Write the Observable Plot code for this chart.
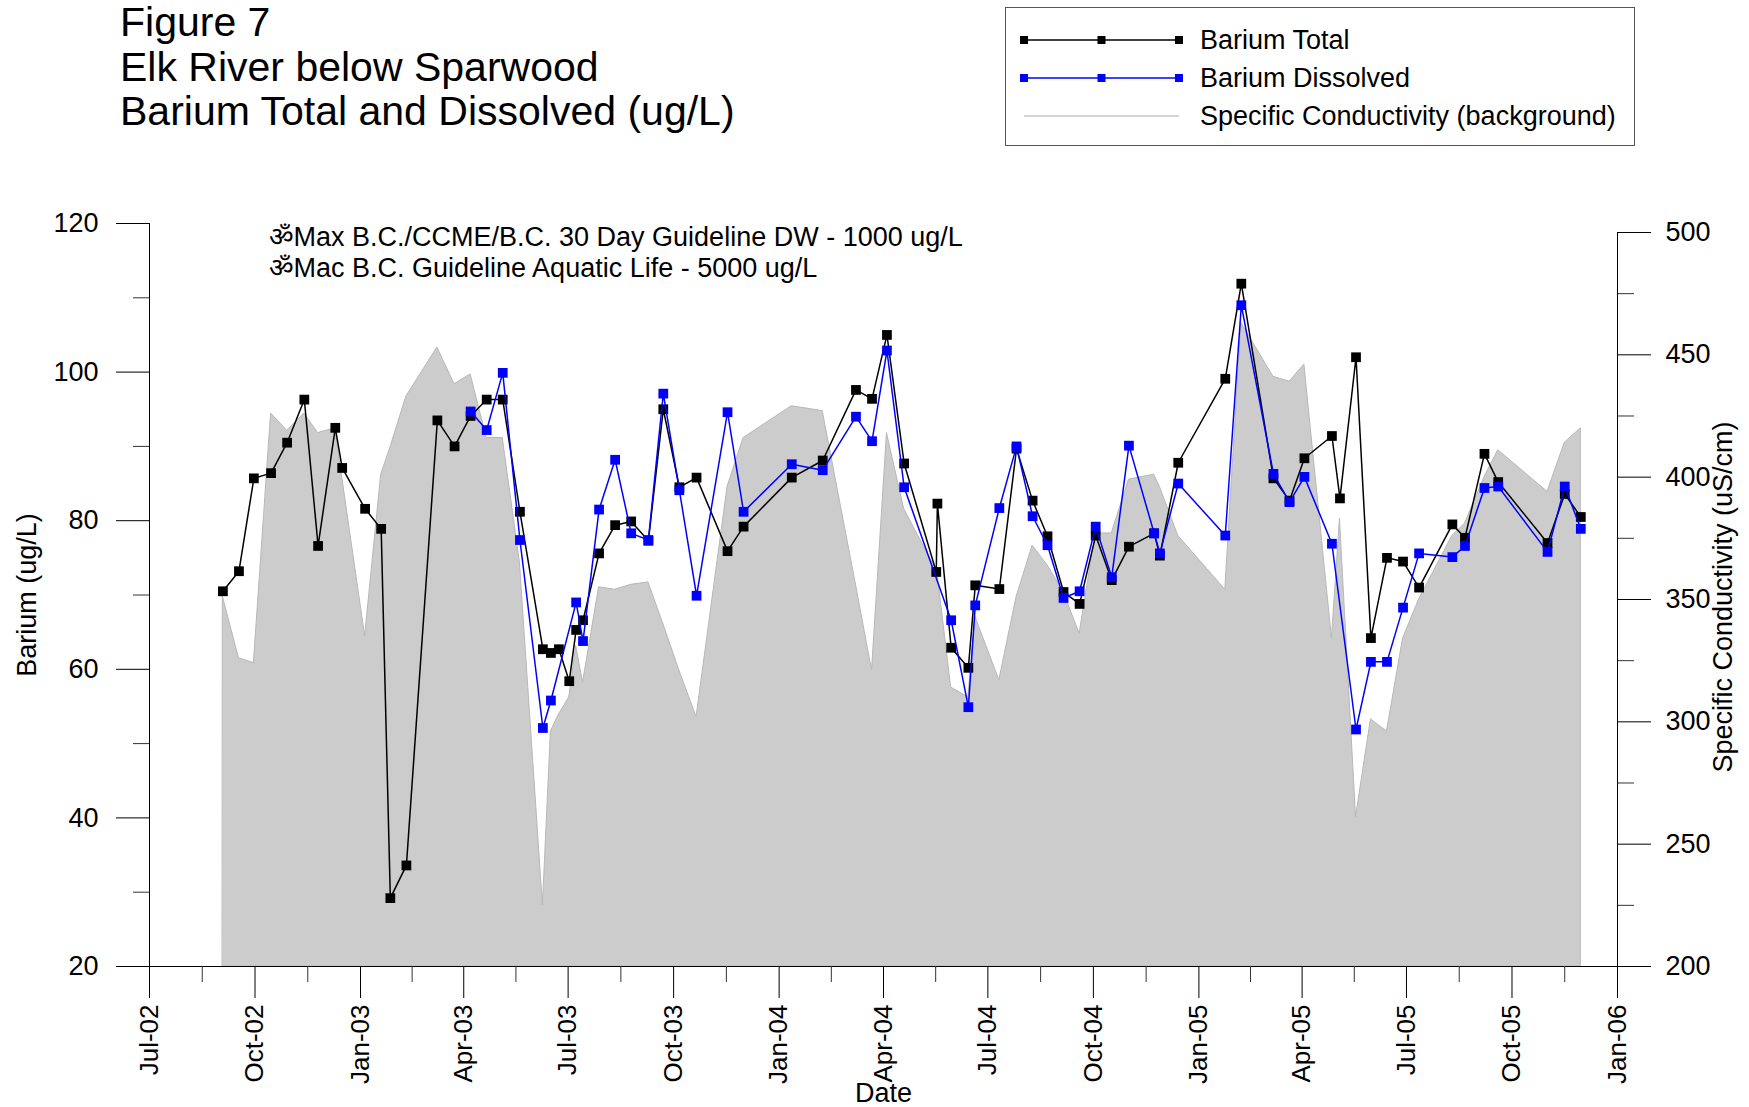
<!DOCTYPE html>
<html><head><meta charset="utf-8">
<script src="https://cdn.jsdelivr.net/npm/d3@7"></script>
<script src="https://cdn.jsdelivr.net/npm/@observablehq/plot@0.6"></script>
<style>
body{margin:0;background:#fff;font-family:"Liberation Sans",Arial,sans-serif;}
#wrap{position:relative;width:1749px;height:1107px;overflow:hidden;background:#fff}
#head{position:relative;width:1749px;height:150px}
#title{position:absolute;left:120px;top:0px;font-size:41px;line-height:44.5px;color:#000;white-space:nowrap}
#legend{position:absolute;left:1005px;top:7px;width:628px;height:137px;border:1px solid #555;background:#fff}
#chart svg{display:block}
</style></head><body>
<div id="wrap">
  <div id="head">
    <div id="title">Figure 7<br>Elk River below Sparwood<br>Barium Total and Dissolved (ug/L)</div>
    <div id="legend"></div>
  </div>
  <div id="chart"></div>
</div>
<script>
// ---- data ----
const sampleDates = [
"2002-09-03","2002-09-17","2002-09-30","2002-10-15","2002-10-29","2002-11-13","2002-11-25","2002-12-10","2002-12-16",
"2003-01-05","2003-01-19","2003-01-27","2003-02-10","2003-03-09","2003-03-24","2003-04-07","2003-04-21","2003-05-05",
"2003-05-20","2003-06-09","2003-06-16","2003-06-23","2003-07-02","2003-07-08","2003-07-14","2003-07-28","2003-08-11",
"2003-08-25","2003-09-09","2003-09-22","2003-10-06","2003-10-21","2003-11-17","2003-12-01","2004-01-12","2004-02-08",
"2004-03-08","2004-03-22","2004-04-04","2004-04-19","2004-05-17","2004-05-18","2004-05-30","2004-06-14","2004-06-20",
"2004-07-11","2004-07-26","2004-08-09","2004-08-22","2004-09-05","2004-09-19","2004-10-03","2004-10-17","2004-11-01",
"2004-11-23","2004-11-28","2004-12-14","2005-01-24","2005-02-07","2005-03-07","2005-03-21","2005-04-03","2005-04-27",
"2005-05-04","2005-05-18","2005-05-31","2005-06-14","2005-06-28","2005-07-12","2005-08-10","2005-08-21","2005-09-07",
"2005-09-19","2005-11-01","2005-11-16","2005-11-30"];
const bariumTotal = [
70.5,73.2,85.7,86.4,90.5,96.3,76.6,92.5,87.1,
81.6,78.9,29.2,33.6,93.5,90.0,94.1,96.3,96.3,
81.2,62.7,62.2,62.7,58.4,65.3,66.6,75.6,79.4,
79.9,77.3,95.0,84.5,85.8,75.9,79.2,85.8,88.1,
97.6,96.4,105.0,87.7,73.1,82.3,62.9,60.2,71.3,
70.8,89.7,82.7,77.9,70.4,68.8,78.0,72.0,76.5,
78.3,75.3,87.8,99.1,111.9,85.7,82.7,88.4,91.4,
83.0,102.0,64.2,75.0,74.5,71.0,79.5,77.7,89.0,
85.2,77.0,83.6,80.5];
const bariumDissolved = [
null,null,null,null,null,null,null,null,null,
null,null,null,null,null,null,94.7,92.2,99.9,
77.4,52.1,55.8,null,null,69.0,63.8,81.5,88.2,
78.3,77.4,97.1,84.1,69.9,94.6,81.2,87.6,86.8,
94.0,90.7,102.9,84.5,null,null,66.6,54.9,68.6,
81.7,90.0,80.6,76.7,69.6,70.5,79.2,72.4,90.1,
78.3,75.6,85.0,78.0,109.0,86.3,82.5,85.9,76.9,
null,51.9,61.0,61.0,68.3,75.6,75.1,76.6,84.4,
84.6,75.8,84.6,78.9];
const conductivity = [
351,326,324,426,419,426,418,420,400,
335,401,412,433,453,438,442,416,416,
365,225,296,303,310,331,316,355,354,
356,357,340,321,302,396,416,429,427,
356,321,418,387,362,361,314,310,343,
317,351,372,364,353,336,377,377,399,
401,396,376,354,463,441,439,446,334,
383,261,301,296,334,350,376,381,400,
411,394,414,420];
const leftTicks = [20,40,60,80,100,120];
const leftMinor = [30,50,70,90,110];
const rightTicks = [200,250,300,350,400,450,500];
const rightMinor = [225,275,325,375,425,475];
const quarterTicks = ["2002-07-01","2002-10-01","2003-01-01","2003-04-01","2003-07-01","2003-10-01","2004-01-01","2004-04-01","2004-07-01","2004-10-01","2005-01-01","2005-04-01","2005-07-01","2005-10-01","2006-01-01"];
const guidelineNotes = ["\u0950Max B.C./CCME/B.C. 30 Day Guideline DW - 1000 ug/L","\u0950Mac B.C. Guideline Aquatic Life - 5000 ug/L"];

// ---- derived ----
const parse = s => new Date(s + "T00:00:00Z");
const samples = sampleDates.map((d,i) => ({date: parse(d), total: bariumTotal[i], diss: bariumDissolved[i], cond: conductivity[i]}));
const dissolved = samples.filter(d => d.diss != null);
// secondary axis mapping: conductivity 200..500 onto barium units
const toBa = d3.scaleLinear().domain([200,500]).range([20,118.79]);
const qDates = quarterTicks.map(parse);
const midDates = qDates.slice(0,-1).map((d,i) => new Date((+d + +qDates[i+1])/2));
const FONT = "Liberation Sans, Arial, sans-serif";

const chart = Plot.plot({
  width: 1749, height: 957,
  marginLeft: 149, marginRight: 132, marginTop: 73, marginBottom: 141,
  x: {type: "utc", domain: [qDates[0], qDates[qDates.length-1]]},
  y: {domain: [20,120]},
  style: {fontFamily: FONT, fontSize: "27px", color: "#000", background: "#fff", overflow: "visible"},
  marks: [
    Plot.areaY(samples, {x: "date", y1: 20, y2: d => toBa(d.cond), fill: "#cccccc", stroke: "#b8b8b8", strokeWidth: 1}),
    Plot.line(samples, {x: "date", y: "total", stroke: "#000", strokeWidth: 1.5}),
    Plot.dot(samples, {x: "date", y: "total", symbol: "square", r: 5.5, fill: "#000", stroke: null}),
    Plot.line(dissolved, {x: "date", y: "diss", stroke: "#0000ff", strokeWidth: 1.5}),
    Plot.dot(dissolved, {x: "date", y: "diss", symbol: "square", r: 5.5, fill: "#0000ff", stroke: null}),
    // axis lines
    Plot.ruleX([qDates[0]], {y1: 20, y2: 120, stroke: "#000"}),
    Plot.ruleX([qDates[qDates.length-1]], {y1: 20, y2: toBa(500), stroke: "#000"}),
    Plot.ruleY([20], {stroke: "#000"}),
    // left axis
    Plot.axisY({anchor: "left", ticks: leftTicks, tickSize: 33, tickPadding: 18, fontSize: 27, label: null, stroke: "#000"}),
    Plot.axisY({anchor: "left", ticks: leftMinor, tickSize: 16, tickFormat: () => "", label: null, stroke: "#333"}),
    // right axis
    Plot.axisY({anchor: "right", ticks: rightTicks.map(toBa), tickSize: 33, tickPadding: 15, fontSize: 27, label: null,
      tickFormat: v => d3.format(".0f")(toBa.invert(v)), stroke: "#000"}),
    Plot.axisY({anchor: "right", ticks: rightMinor.map(toBa), tickSize: 16, tickFormat: () => "", label: null, stroke: "#333"}),
    // bottom axis
    Plot.axisX({ticks: qDates, tickSize: 32, tickPadding: 6, tickRotate: -90, fontSize: 26, label: null,
      tickFormat: d3.utcFormat("%b-%y"), stroke: "#000"}),
    Plot.axisX({ticks: midDates, tickSize: 16, tickFormat: () => "", label: null, stroke: "#333"}),
    // axis titles
    Plot.text(["Barium (ug/L)"], {frameAnchor: "left", dx: -122, rotate: -90, textAnchor: "middle", fontSize: 27}),
    Plot.text(["Specific Conductivity (uS/cm)"], {frameAnchor: "right", dx: 106, dy: 2, rotate: -90, textAnchor: "middle", fontSize: 27}),
    Plot.text(["Date"], {frameAnchor: "bottom", dy: 135, fontSize: 27}),
    // guideline notes
    Plot.text([guidelineNotes[0]], {frameAnchor: "top-left", dx: 119, dy: 3, textAnchor: "start", fontSize: 27}),
    Plot.text([guidelineNotes[1]], {frameAnchor: "top-left", dx: 119, dy: 34, textAnchor: "start", fontSize: 27})
  ]
});
document.getElementById("chart").appendChild(chart);

// ---- legend ----
const legendItems = [
  {label: "Barium Total", color: "#000", markers: true},
  {label: "Barium Dissolved", color: "#0000ff", markers: true},
  {label: "Specific Conductivity (background)", color: "#aaaaaa", markers: false}
];
const lg = d3.select("#legend").append("svg").attr("width", 628).attr("height", 137)
  .style("font-family", FONT).style("font-size", "27px");
legendItems.forEach((it, i) => {
  const y = 32 + i * 38;
  const g = lg.append("g");
  g.append("line").attr("x1", 18).attr("x2", 173).attr("y1", y).attr("y2", y)
    .attr("stroke", it.color).attr("stroke-width", it.markers ? 1.5 : 1);
  if (it.markers) [18, 95.5, 173].forEach(x => g.append("rect").attr("x", x - 4).attr("y", y - 4)
    .attr("width", 8).attr("height", 8).attr("fill", it.color));
  g.append("text").attr("x", 194).attr("y", y).attr("dominant-baseline", "central").text(it.label);
});
</script>
</body></html>
